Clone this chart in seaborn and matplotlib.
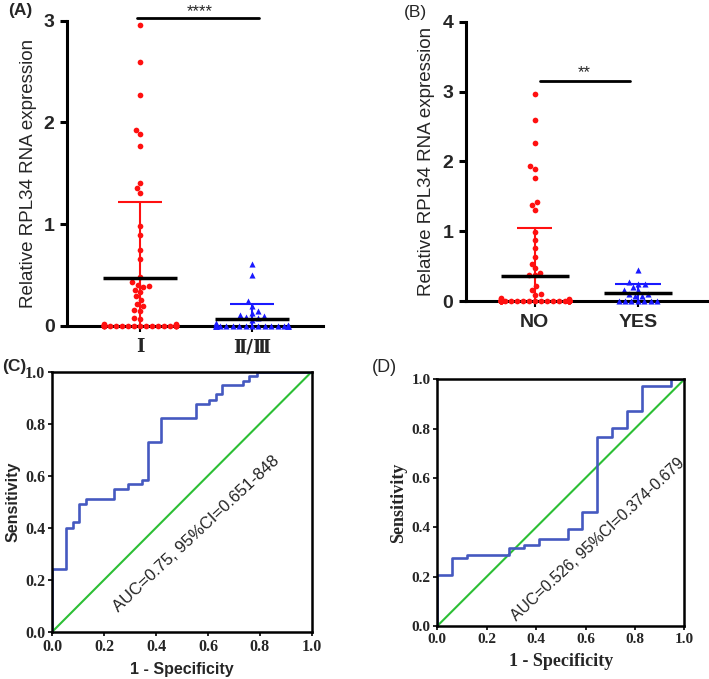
import numpy as np
import pandas as pd
import seaborn as sns
import matplotlib.pyplot as plt

# =========================
# DATOS
# =========================

grade_cats = ["Ⅰ", "Ⅱ/Ⅲ"]
grade_I = [2.96, 2.59, 2.27, 1.93, 1.89, 1.77, 1.41, 1.36, 1.31, 0.98, 0.89, 0.75, 0.66,
           0.48, 0.43, 0.40, 0.39, 0.38, 0.35, 0.33, 0.29, 0.26, 0.22, 0.20, 0.16, 0.15, 0.08, 0.07,
           0.02, 0.02, 0.01, 0.01, 0.01, 0.01, 0.00, 0.00, 0.00, 0.00, 0.00, 0.00, 0.00,
           0.00, 0.00, 0.00, 0.00, 0.00, 0.00, 0.00, 0.00, 0.00, 0.00, 0.00, 0.00]
grade_II_III = [0.61, 0.50, 0.25, 0.20, 0.15, 0.13, 0.11, 0.10, 0.09, 0.08, 0.06, 0.03,
                0.01, 0.01, 0.00, 0.00, 0.00, 0.00, 0.00, 0.00, 0.00, 0.00, 0.00,
                0.00, 0.00, 0.00, 0.00, 0.00, 0.00, 0.00, 0.00, 0.00, 0.00]

meta_cats = ["NO", "YES"]
meta_no = [2.96, 2.59, 2.27, 1.94, 1.89, 1.77, 1.42, 1.38, 1.31, 0.99, 0.88, 0.76, 0.64,
           0.54, 0.47, 0.40, 0.38, 0.37, 0.22, 0.16, 0.11, 0.09,
           0.04, 0.03, 0.03, 0.02, 0.02, 0.02, 0.01, 0.01, 0.01, 0.01, 0.01, 0.01,
           0.00, 0.00, 0.00, 0.00, 0.00, 0.00, 0.00, 0.00, 0.00, 0.00, 0.00, 0.00,
           0.00, 0.00, 0.00, 0.00, 0.00, 0.00, 0.00, 0.00, 0.00, 0.00, 0.00, 0.00,
           0.00, 0.00, 0.00, 0.00, 0.00, 0.00, 0.00, 0.00, 0.00]
meta_yes = [0.45, 0.28, 0.25, 0.25, 0.21, 0.16, 0.16, 0.11, 0.11, 0.08, 0.08,
            0.00, 0.00, 0.00, 0.00, 0.00, 0.00, 0.00]

roc_c_fpr = [0.0, 0.0, 0.053, 0.078, 0.104, 0.131, 0.238, 0.29, 0.344, 0.367, 0.42,
             0.553, 0.603, 0.63, 0.654, 0.735, 0.76, 0.79, 1.0]
roc_c_tpr = [0.0, 0.24, 0.40, 0.42, 0.49, 0.51, 0.55, 0.567, 0.583, 0.73, 0.82,
             0.875, 0.893, 0.913, 0.949, 0.965, 0.983, 1.0, 1.0]
roc_c_text = "AUC=0.75, 95%CI=0.651-848"

roc_d_fpr = [0.0, 0.0, 0.058, 0.119, 0.292, 0.352, 0.412, 0.53, 0.587, 0.648,
             0.706, 0.767, 0.827, 0.945, 1.0]
roc_d_tpr = [0.0, 0.207, 0.274, 0.288, 0.315, 0.328, 0.353, 0.393, 0.461, 0.765,
             0.804, 0.872, 0.973, 1.0, 1.0]
roc_d_text = "AUC=0.526, 95%CI=0.374-0.679"

# =========================
# ESTILO
# =========================

sns.set_theme(style="ticks")
plt.rcParams['font.family'] = ['Liberation Sans', 'DejaVu Sans']
SERIF = ['Liberation Serif', 'DejaVu Serif']

RED = "#ff1010"
BLUE = "#1a1aff"
ROC_BLUE = "#4559c0"
GREEN = "#2cbf35"

fig = plt.figure(figsize=(7.09, 6.79), dpi=100)
axA = fig.add_axes([0.0945, 0.5199, 0.361, 0.4496])
axB = fig.add_axes([0.657, 0.5563, 0.343, 0.4118])
axC = fig.add_axes([0.0738, 0.0697, 0.3659, 0.3829])
axD = fig.add_axes([0.6168, 0.0781, 0.3484, 0.3633])


def scatter_panel(ax, cats, g1, g2, sep, caps, ymax, xlim):
    # swarm width is 0.8 of one unit, so the groups are placed "sep" units apart
    pos = [0.0, sep]
    d1 = pd.DataFrame({"pos": pos[0], "valor": g1})
    d2 = pd.DataFrame({"pos": pos[1], "valor": g2})
    sns.swarmplot(data=d1, x="pos", y="valor", native_scale=True, color=RED, marker="o",
                  size=4.1, linewidth=0, warn_thresh=1, ax=ax)
    sns.swarmplot(data=d2, x="pos", y="valor", native_scale=True, color=BLUE, marker="^",
                  size=4.4, linewidth=0, warn_thresh=1, ax=ax)
    for coll in ax.collections:
        coll.set_clip_on(False)
    for i, (vals, col) in enumerate([(g1, RED), (g2, BLUE)]):
        m = np.mean(vals)
        s = np.std(vals, ddof=1)
        ax.vlines(pos[i], m - s, m + s, color=col, lw=1.5, zorder=4)
        ax.hlines(m + s, pos[i] - caps[i] * sep, pos[i] + caps[i] * sep, color=col, lw=1.5, zorder=4)
        ax.hlines(m, pos[i] - 0.33 * sep, pos[i] + 0.33 * sep, color="black", lw=2.5, zorder=5)
    ax.set_ylim(0, ymax)
    ax.set_xlim(xlim[0] * sep, xlim[1] * sep)
    ax.set_yticks(range(0, ymax + 1))
    ax.set_xticks(pos)
    sns.despine(ax=ax)
    for side in ["left", "bottom"]:
        ax.spines[side].set_linewidth(2.2)
        ax.spines[side].set_color("black")
    ax.tick_params(axis="y", length=5, width=2.2, labelsize=14, pad=4, color="black")
    ax.tick_params(axis="x", length=4, width=1.5, pad=5, color="black")
    for t in ax.get_yticklabels():
        t.set_fontweight("bold")
    ax.set_xlabel("")
    ax.set_ylabel("Relative RPL34 RNA expression", fontsize=13.5, labelpad=5)
    return pos


# (A)
posA = scatter_panel(axA, grade_cats, grade_I, grade_II_III, 1.23, (0.2, 0.2), 3, (-0.652, 1.634))
axA.set_xticklabels(grade_cats, family=['DejaVu Serif', 'Noto Sans CJK SC'], fontsize=13,
                    fontweight="bold")
axA.plot([-0.03 * 1.23, 1.06 * 1.23], [3.03, 3.03], color="black", lw=2, clip_on=False)
axA.text(0.53 * 1.23, 3.02, "****", ha="center", va="bottom", fontsize=12)

# (B)
posB = scatter_panel(axB, meta_cats, meta_no, meta_yes, 1.21, (0.17, 0.22), 4, (-0.67, 1.69))
axB.set_xticklabels(meta_cats, fontsize=14, fontweight="bold")
axB.plot([0.05 * 1.21, 0.92 * 1.21], [3.15, 3.15], color="black", lw=2, clip_on=False)
axB.text(0.48 * 1.21, 3.17, "**", ha="center", va="bottom", fontsize=12)


def roc_panel(ax, fpr, tpr, text, tx, ty, fs_text, serif_labels, fs_tick, fs_lab):
    sns.lineplot(x=[0, 1], y=[0, 1], color=GREEN, lw=1.5, ax=ax)
    sns.lineplot(x=fpr, y=tpr, sort=False, estimator=None, drawstyle="steps-post",
                 color=ROC_BLUE, lw=1.9, ax=ax)
    ax.set_xlim(0, 1)
    ax.set_ylim(0, 1)
    ticks = [0.0, 0.2, 0.4, 0.6, 0.8, 1.0]
    ax.set_xticks(ticks)
    ax.set_yticks(ticks)
    ax.set_xticklabels([f"{t:.1f}" for t in ticks], family=SERIF, fontweight="bold", fontsize=fs_tick)
    ax.set_yticklabels([f"{t:.1f}" for t in ticks], family=SERIF, fontweight="bold", fontsize=fs_tick)
    ax.tick_params(length=3, width=1.2, pad=2, color="black")
    for sp in ax.spines.values():
        sp.set_linewidth(1.8)
        sp.set_color("black")
    fam = SERIF if serif_labels else ['Liberation Sans', 'DejaVu Sans']
    ax.set_xlabel("1 - Specificity", family=fam, fontweight="bold", fontsize=fs_lab, labelpad=5)
    ax.set_ylabel("Sensitivity", family=fam, fontweight="bold", fontsize=fs_lab, labelpad=3)
    ax.text(tx, ty, text, rotation=43, rotation_mode="anchor", ha="center", va="center",
            fontsize=fs_text, color="#222222")


roc_panel(axC, roc_c_fpr, roc_c_tpr, roc_c_text, 0.554, 0.376, 12, False, 11.5, 11.5)
roc_panel(axD, roc_d_fpr, roc_d_tpr, roc_d_text, 0.652, 0.351, 11.3, True, 11, 13)

# Etiquetas de panel
fig.text(8 / 709, 1 - 10 / 679, "(A)", fontsize=12.5, fontweight="bold", va="center")
fig.text(404 / 709, 1 - 12 / 679, "(B)", fontsize=12.5, va="center")
fig.text(2 / 709, 1 - 367 / 679, "(C)", fontsize=12.5, fontweight="bold", va="center")
fig.text(372 / 709, 1 - 368 / 679, "(D)", fontsize=13, va="center")

fig.savefig("out.png", dpi=100)
